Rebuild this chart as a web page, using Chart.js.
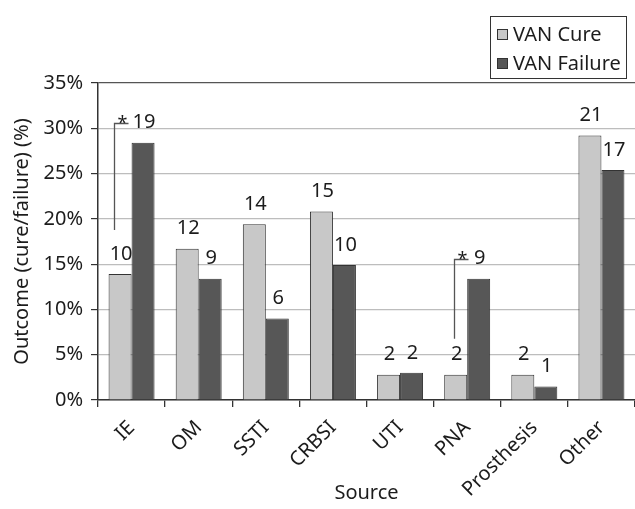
<!DOCTYPE html>
<html>
<head>
<meta charset="utf-8">
<script src="https://cdn.jsdelivr.net/npm/chart.js@4"></script>
<style>
  html, body { margin: 0; padding: 0; background: #ffffff; }
  #c { display: block; }
</style>
</head>
<body>
<canvas id="c" width="635" height="509"></canvas>
<script>
// Infection sources on the x axis
const sources = ['IE', 'OM', 'SSTI', 'CRBSI', 'UTI', 'PNA', 'Prosthesis', 'Other'];
// Share of each outcome group (%)
const curePct = [13.9, 16.7, 19.4, 20.8, 2.8, 2.8, 2.8, 29.2];
const failurePct = [28.4, 13.4, 9.0, 14.9, 3.0, 13.4, 1.5, 25.4];
// Patient counts printed over the bars
const cureCounts = [10, 12, 14, 15, 2, 2, 2, 21];
const failureCounts = [19, 9, 6, 10, 2, 9, 1, 17];
// Y axis tick values (%)
const yTicks = [0, 5, 10, 15, 20, 25, 30, 35];
// Sources with a significant cure/failure difference
const significant = ['IE', 'PNA'];

const seriesNames = ['VAN Cure', 'VAN Failure'];
const FONT = '"Noto Sans", "DejaVu Sans", sans-serif';
const INK = '#1c1c1c';

// Numbers above every bar
const countLabels = {
  id: 'countLabels',
  afterDatasetsDraw(chart) {
    const ctx = chart.ctx;
    const counts = [cureCounts, failureCounts];
    ctx.save();
    ctx.font = '20px ' + FONT;
    ctx.fillStyle = INK;
    ctx.textAlign = 'center';
    ctx.textBaseline = 'middle';
    chart.data.datasets.forEach((ds, d) => {
      chart.getDatasetMeta(d).data.forEach((bar, i) => {
        ctx.fillText(String(counts[d][i]), bar.x + 1, bar.y - 20);
      });
    });
    ctx.restore();
  }
};

// Significance brackets: a line rising from the cure bar, turning toward the failure count
const sigBrackets = {
  id: 'sigBrackets',
  afterDatasetsDraw(chart, args, opts) {
    const ctx = chart.ctx;
    const cureMeta = chart.getDatasetMeta(0);
    const failMeta = chart.getDatasetMeta(1);
    ctx.save();
    ctx.strokeStyle = '#555555';
    ctx.lineWidth = 1.3;
    ctx.fillStyle = INK;
    ctx.font = '18px ' + FONT;
    ctx.textAlign = 'center';
    ctx.textBaseline = 'alphabetic';
    significant.forEach(name => {
      const i = sources.indexOf(name);
      const st = opts.style[name];
      const cure = cureMeta.data[i];
      const fail = failMeta.data[i];
      const x0 = Math.round(cure.x + st.dx) + 0.5;
      const x1 = x0 + 14;
      const yTop = Math.round(fail.y - 20) + 0.5;
      const yBottom = cure.y - st.drop;
      ctx.beginPath();
      ctx.moveTo(x0, yBottom);
      ctx.lineTo(x0, yTop);
      ctx.lineTo(x1, yTop);
      ctx.stroke();
      ctx.fillText('*', (x0 + x1) / 2 + 1, yTop + 5);
    });
    ctx.restore();
  }
};

// Boxed legend in the upper right corner
const boxLegend = {
  id: 'boxLegend',
  afterDraw(chart) {
    const ctx = chart.ctx;
    ctx.save();
    ctx.strokeStyle = '#333333';
    ctx.lineWidth = 1;
    ctx.strokeRect(490.5, 16.5, 136, 62);
    ctx.font = '20px ' + FONT;
    ctx.textBaseline = 'middle';
    ctx.textAlign = 'left';
    chart.data.datasets.forEach((ds, d) => {
      const cy = 34 + d * 29;
      ctx.fillStyle = ds.backgroundColor;
      ctx.fillRect(497, cy - 5, 11, 10);
      ctx.strokeStyle = '#333333';
      ctx.strokeRect(497.5, cy - 4.5, 10, 10);
      ctx.fillStyle = INK;
      ctx.fillText(ds.label, 513, cy + 1);
    });
    ctx.restore();
  }
};

new Chart(document.getElementById('c'), {
  type: 'bar',
  data: {
    labels: sources,
    datasets: [
      {
        label: seriesNames[0],
        data: curePct,
        backgroundColor: '#c8c8c8',
        borderColor: '#333333',
        borderWidth: 1,
        categoryPercentage: 0.685,
        barPercentage: 1.0
      },
      {
        label: seriesNames[1],
        data: failurePct,
        backgroundColor: '#575757',
        borderColor: '#333333',
        borderWidth: 1,
        categoryPercentage: 0.685,
        barPercentage: 1.0
      }
    ]
  },
  options: {
    responsive: false,
    animation: false,
    devicePixelRatio: 1,
    layout: { padding: { top: 83, right: 0, bottom: 0, left: 0 } },
    plugins: {
      legend: { display: false },
      tooltip: { enabled: false },
      sigBrackets: {
        style: {
          IE: { dx: -6, drop: 44 },
          PNA: { dx: -2, drop: 36 }
        }
      }
    },
    scales: {
      x: {
        afterFit(scale) { scale.height = 109; },
        grid: {
          display: true,
          drawOnChartArea: false,
          drawTicks: true,
          offset: true,
          tickLength: 7,
          color: '#333333',
          tickColor: '#333333',
          lineWidth: 1.3
        },
        border: { display: true, color: '#333333', width: 1.5 },
        ticks: {
          minRotation: 45,
          maxRotation: 45,
          autoSkip: false,
          padding: 9,
          color: INK,
          font: { family: FONT, size: 20 }
        },
        title: {
          display: true,
          text: 'Source',
          color: INK,
          font: { family: FONT, size: 20 },
          padding: { top: 4, bottom: 4 }
        }
      },
      y: {
        min: 0,
        max: 35,
        afterFit(scale) { scale.width = 98; },
        afterBuildTicks(scale) { scale.ticks = yTicks.map(v => ({ value: v })); },
        grid: {
          drawTicks: true,
          tickLength: 7,
          tickColor: '#333333',
          color: ctx => (ctx.tick && ctx.tick.value === 35 ? '#555555' : '#bdbdbd'),
          lineWidth: 1.2
        },
        border: { display: true, color: '#333333', width: 1.5 },
        ticks: {
          padding: 8,
          color: INK,
          font: { family: FONT, size: 20 },
          callback: v => v + '%'
        },
        title: {
          display: true,
          text: 'Outcome (cure/failure) (%)',
          color: INK,
          font: { family: FONT, size: 20 },
          padding: { top: 10, bottom: 4 }
        }
      }
    }
  },
  plugins: [countLabels, sigBrackets, boxLegend]
});
</script>
</body>
</html>
